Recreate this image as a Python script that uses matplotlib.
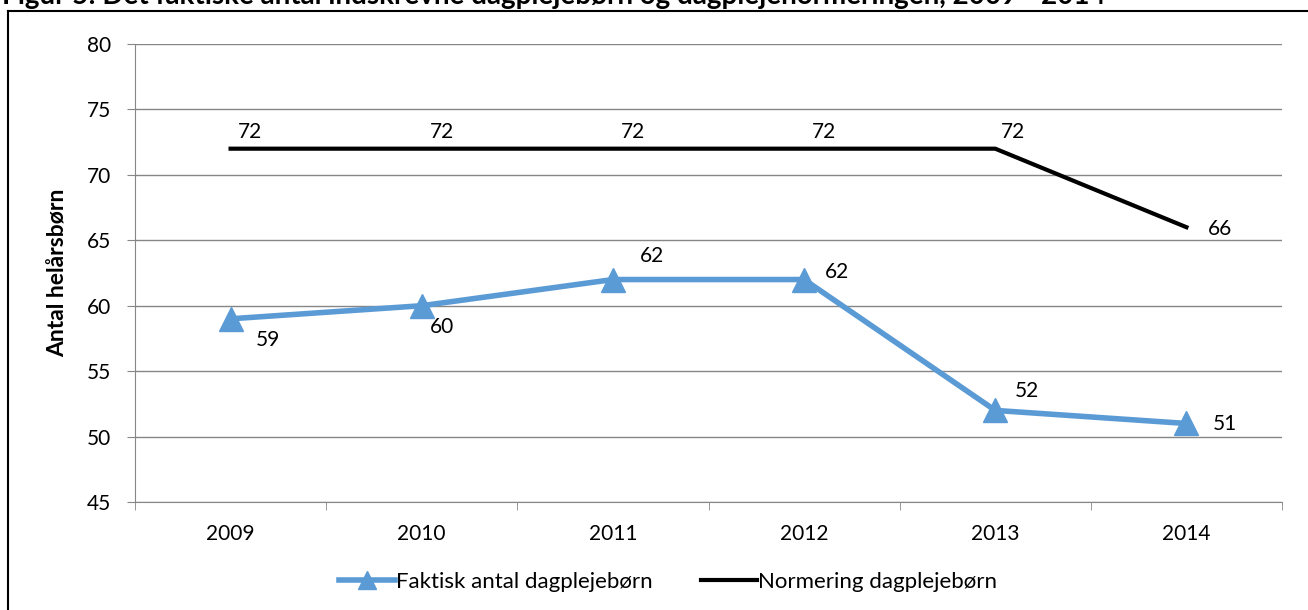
import matplotlib
matplotlib.use("Agg")
import matplotlib.pyplot as plt
from matplotlib.lines import Line2D

plt.rcParams['font.family'] = ['Lato', 'DejaVu Sans']

# Data
years = ['2009', '2010', '2011', '2012', '2013', '2014']
faktisk = [59, 60, 62, 62, 52, 51]
normering = [72, 72, 72, 72, 72, 66]
faktisk_label = 'Faktisk antal dagplejebørn'
normering_label = 'Normering dagplejebørn'
title = 'Figur 5: Det faktiske antal indskrevne dagplejebørn og dagplejenormeringen, 2009 - 2014'
ylabel = 'Antal helårsbørn'
yticks = [45, 50, 55, 60, 65, 70, 75, 80]

BLUE = '#5B9BD5'
GRID = '#868686'
FS = 15

fig = plt.figure(figsize=(13.08, 6.10), dpi=100)
ax = fig.add_axes([135 / 1308, 108 / 610, 1147 / 1308, 458 / 610])

x = list(range(len(years)))
ax.plot(x, faktisk, color=BLUE, lw=4, marker='^', markersize=17,
        label=faktisk_label, zorder=3, solid_joinstyle='round')
ax.plot(x, normering, color='black', lw=3, label=normering_label, zorder=3)

# data labels (pixel offsets from the point)
blue_off = [(37, -21), (20, -21), (39, 24), (33, 8), (32, 19), (39, -1)]
for xi, v, off in zip(x, faktisk, blue_off):
    ax.annotate(str(v), (xi, v), xytext=off, textcoords='offset pixels',
                ha='center', va='center', fontsize=FS)
black_off = [(19, 17), (20, 17), (20, 17), (20, 17), (18, 17), (34, -2)]
for xi, v, off in zip(x, normering, black_off):
    ax.annotate(str(v), (xi, v), xytext=off, textcoords='offset pixels',
                ha='center', va='center', fontsize=FS)

ax.set_xlim(-0.5, len(years) - 0.5)
ax.set_ylim(45, 80)
ax.set_yticks(yticks)
ax.set_xticks(x)
ax.set_xticklabels(years, fontsize=FS)
ax.set_xticks([i - 0.5 for i in range(len(years) + 1)], minor=True)
ax.tick_params(axis='x', which='major', length=0, pad=16)
ax.tick_params(axis='x', which='minor', length=6, color=GRID, direction='out')
ax.tick_params(axis='y', length=6, color=GRID, labelsize=FS, pad=11)
ax.grid(axis='y', color=GRID, lw=1)
ax.set_axisbelow(True)
for s in ['top', 'right']:
    ax.spines[s].set_visible(False)
ax.spines['left'].set_color(GRID)
ax.spines['bottom'].set_color(GRID)
ax.set_ylabel(ylabel, fontsize=16.5, fontweight='bold', labelpad=13)

handles = [Line2D([], [], color=BLUE, lw=4, marker='^', markersize=13),
           Line2D([], [], color='black', lw=3)]
fig.legend(handles, [faktisk_label, normering_label], loc='center',
           bbox_to_anchor=(668 / 1308, 28 / 610), ncol=2, frameon=False,
           fontsize=16, handlelength=2.5, handletextpad=0.05, columnspacing=2.2)

# outer frame (top and left border of the figure box)
fig.add_artist(Line2D([8 / 1308, 1], [1 - 11 / 610, 1 - 11 / 610],
                      transform=fig.transFigure, color='black', lw=1.5))
fig.add_artist(Line2D([8 / 1308, 8 / 1308], [0, 1 - 11 / 610],
                      transform=fig.transFigure, color='black', lw=1.5))

fig.text(2 / 1308, 1 - 4 / 610, title, fontsize=20, fontweight='bold',
         ha='left', va='baseline')

fig.savefig('out.png', dpi=100)
